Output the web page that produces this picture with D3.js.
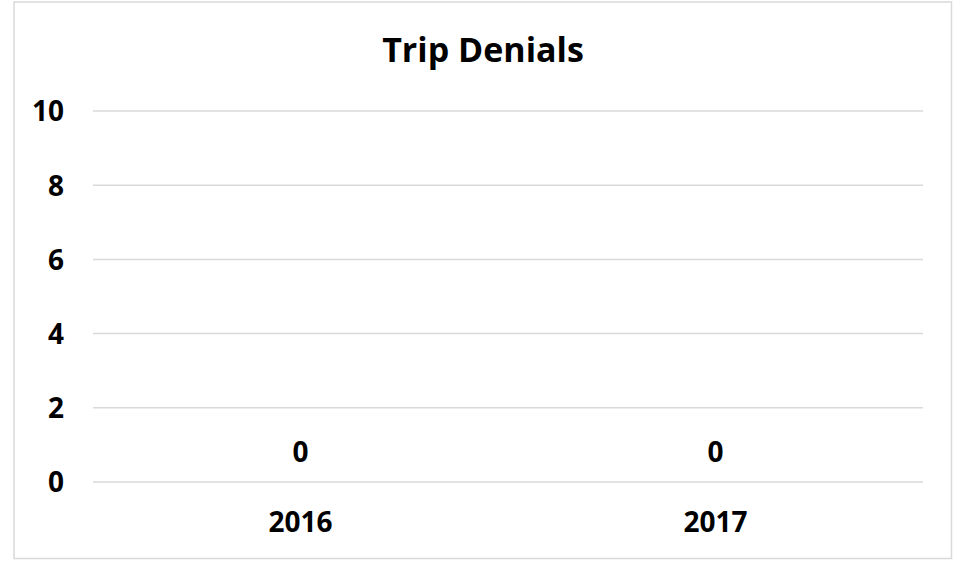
<!DOCTYPE html>
<html>
<head>
<meta charset="utf-8">
<script src="https://cdn.jsdelivr.net/npm/d3@7/dist/d3.min.js"></script>
<style>
  html, body { margin: 0; padding: 0; background: #ffffff; }
  svg { display: block; }
  text { font-family: "Open Sans", "Liberation Sans", sans-serif; font-weight: bold; fill: #000000; }
</style>
</head>
<body>
<svg id="chart" width="961" height="561"></svg>
<script>
const title = "Trip Denials";
const categories = ["2016", "2017"];
const values = [0, 0];
const yTicks = [0, 2, 4, 6, 8, 10];

const svg = d3.select("#chart");

// outer border
svg.append("rect")
  .attr("x", 14).attr("y", 2)
  .attr("width", 937.5).attr("height", 556.5)
  .attr("fill", "#ffffff")
  .attr("stroke", "#d9d9d9")
  .attr("stroke-width", 1.5);

const plot = { left: 93, right: 923, top: 111, bottom: 482 };

const x = d3.scaleBand().domain(categories).range([plot.left, plot.right]);
const y = d3.scaleLinear().domain([0, 10]).range([plot.bottom, plot.top]);

// gridlines
svg.append("g").selectAll("line").data(yTicks).join("line")
  .attr("x1", plot.left).attr("x2", plot.right)
  .attr("y1", d => y(d)).attr("y2", d => y(d))
  .attr("stroke", "#d9d9d9").attr("stroke-width", 1.5);

// y axis labels
const yAxis = d3.axisLeft(y).tickValues(yTicks).tickSize(0).tickPadding(0).tickFormat(d3.format("d"));
const gy = svg.append("g").attr("transform", `translate(64,0)`).call(yAxis);
gy.select(".domain").remove();
gy.selectAll("text").attr("font-size", 28).attr("dy", "0.355em")
  .attr("font-family", "'Open Sans', sans-serif").attr("font-weight", "bold").attr("fill", "#000");

// x axis labels
const xAxis = d3.axisBottom(x).tickSize(0).tickPadding(0);
const gx = svg.append("g").attr("transform", `translate(0,${plot.bottom + 50})`).call(xAxis);
gx.select(".domain").remove();
gx.selectAll("text").attr("dy", 0).attr("font-size", 28)
  .attr("font-family", "'Open Sans', sans-serif").attr("font-weight", "bold").attr("fill", "#000");

// bars (zero height)
svg.append("g").selectAll("rect").data(values).join("rect")
  .attr("x", (d, i) => x(categories[i]) + x.bandwidth() * 0.25)
  .attr("width", x.bandwidth() * 0.5)
  .attr("y", d => y(d))
  .attr("height", d => y(0) - y(d))
  .attr("fill", "#4472c4");

// data labels
svg.append("g").selectAll("text").data(values).join("text")
  .attr("x", (d, i) => x(categories[i]) + x.bandwidth() / 2)
  .attr("y", d => y(d) - 20)
  .attr("text-anchor", "middle")
  .attr("font-size", 28)
  .text(d => d);

// title
svg.append("text")
  .attr("x", 483).attr("y", 62)
  .attr("text-anchor", "middle")
  .attr("font-size", 34)
  .text(title);
</script>
</body>
</html>
